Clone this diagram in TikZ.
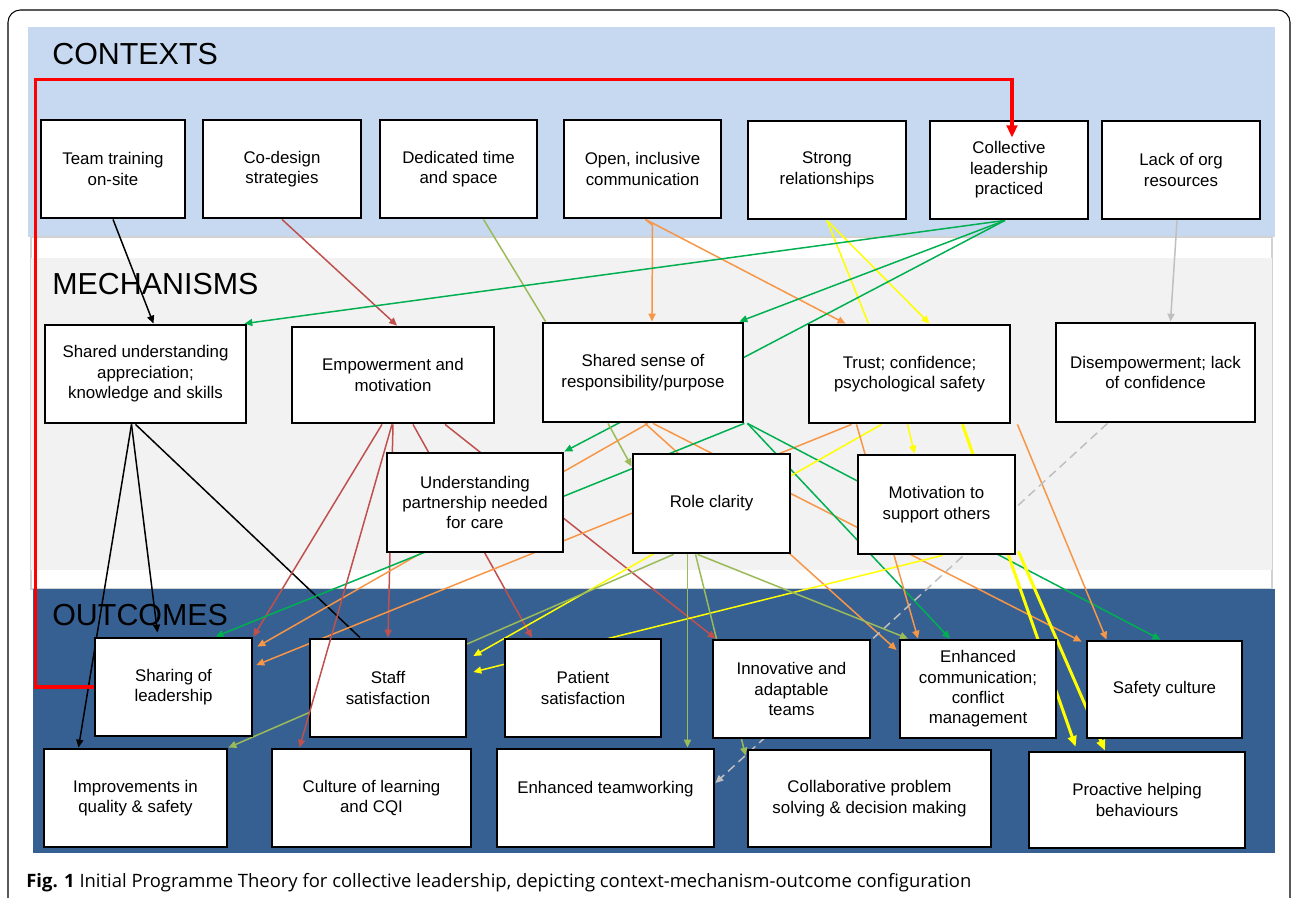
\documentclass[tikz,border=0pt]{standalone}
\usepackage{fontspec}
\setmainfont{Liberation Sans}
\newfontfamily\capfont{Open Sans}
\usetikzlibrary{arrows.meta,calc}

\definecolor{ctxblue}{HTML}{C6D9F1}
\definecolor{mechgray}{HTML}{F2F2F2}
\definecolor{outblue}{HTML}{366092}
\definecolor{brick}{HTML}{C0504D}
\definecolor{orng}{HTML}{F79646}
\definecolor{ogreen}{HTML}{9BBB59}
\definecolor{grn}{HTML}{00B050}
\definecolor{ylw}{HTML}{FFFF00}
\definecolor{gry}{HTML}{BFBFBF}

\pgfdeclarelayer{bands}
\pgfdeclarelayer{links}
\pgfsetlayers{bands,links,main}

\begin{document}
\begin{tikzpicture}[x=0.02cm, y=-0.02cm,
	cbox/.style={draw, line width=1.6pt, fill=white, align=center, inner sep=0pt, font=\fontsize{9.6}{11.6}\selectfont},
	bx/.style 2 args={minimum width=#1*0.02cm, minimum height=#2*0.02cm},
	ttl/.style={anchor=base west, inner sep=0pt, font=\fontsize{17.3}{20}\selectfont},
	lnk/.style={line width=0.85pt, -{Triangle[length=4.5pt,width=4pt]}},
	fat/.style={line width=1.7pt, -{Triangle[length=6pt,width=5pt]}}]
	\useasboundingbox (0,0) rectangle (1292,898);

	% Draw bands
	\begin{pgfonlayer}{bands}
	\draw[line width=0.6pt, rounded corners=7pt] (8,910) -- (8,10) -- (1290,10) -- (1290,910);
	\fill[ctxblue] (28,27) rectangle (1275,237);
	\draw[gry!70, line width=0.6pt, fill=white] (31,237) rectangle (1272,589);
	\fill[mechgray] (31,258) rectangle (1272,570);
	\fill[outblue] (33,589) rectangle (1275,853);
	\end{pgfonlayer}

	% Section titles
	\node (tctx) at (52,65) [ttl] {CONTEXTS};
	\node (tmech) at (52,295) [ttl] {MECHANISMS};
	\node (tout) at (52,625) [ttl] {OUTCOMES};

	% Contexts
	\node (ttr) at (113,169) [cbox, bx={144}{98}] {Team training\\on-site};
	\node (cds) at (282,169) [cbox, bx={158}{98}] {Co-design\\strategies};
	\node (ded) at (458.5,169) [cbox, bx={157}{98}] {Dedicated time\\and space};
	\node (opn) at (642.5,169) [cbox, bx={157}{98}] {Open, inclusive\\communication};
	\node (str) at (827,170) [cbox, bx={158}{98}] {Strong\\relationships};
	\node (col) at (1009,170) [cbox, bx={158}{98}] {Collective\\leadership\\practiced};
	\node (lck) at (1181,170) [cbox, bx={158}{98}] {Lack of org\\resources};

	% Mechanisms
	\node (shu) at (145.5,374) [cbox, bx={201}{98}] {Shared understanding\\appreciation;\\knowledge and skills};
	\node (emp) at (393,375) [cbox, bx={202}{96}] {Empowerment and\\motivation};
	\node (sss) at (643,372.5) [cbox, bx={200}{99}] {Shared sense of\\responsibility/purpose};
	\node (tru) at (909.5,374) [cbox, bx={201}{98}] {Trust; confidence;\\psychological safety};
	\node (dis) at (1155.5,372.5) [cbox, bx={199}{99}] {Disempowerment; lack\\of confidence};
	\node (upn) at (475,502.5) [cbox, bx={176}{99}] {Understanding\\partnership needed\\for care};
	\node (rcl) at (711.5,503.5) [cbox, bx={157}{99}] {Role clarity};
	\node (mot) at (936.5,504.5) [cbox, bx={157}{99}] {Motivation to\\support others};

	% Outcomes
	\node (shl) at (173.5,687) [cbox, bx={157}{98}] {Sharing of\\leadership};
	\node (sts) at (388,688) [cbox, bx={156}{98}] {Staff\\satisfaction};
	\node (pts) at (583,688) [cbox, bx={156}{98}] {Patient\\satisfaction};
	\node (inn) at (791.5,689) [cbox, bx={157}{98}] {Innovative and\\adaptable\\teams};
	\node (enc) at (978,689) [cbox, bx={156}{98}] {Enhanced\\communication;\\conflict\\management};
	\node (sfc) at (1164.5,689.5) [cbox, bx={155}{97}] {Safety culture};
	\node (imp) at (135.5,798) [cbox, bx={183}{98}] {Improvements in\\quality \& safety};
	\node (cul) at (371.5,798) [cbox, bx={199}{98}] {Culture of learning\\and CQI};
	\node (etw) at (605.5,798) [cbox, bx={217}{98}] {Enhanced teamworking\\\mbox{}};
	\node (cps) at (869.5,798.5) [cbox, bx={243}{97}] {Collaborative problem\\solving \& decision making};
	\node (pro) at (1137,800) [cbox, bx={216}{96}] {Proactive helping\\behaviours};

	% Caption
	\node (cap) at (26,887) [anchor=base west, inner sep=0pt, font=\capfont\fontsize{10.5}{12}\selectfont] {\textbf{Fig. 1} Initial Programme Theory for collective leadership, depicting context-mechanism-outcome configuration};

	\begin{pgfonlayer}{links}
	% Contexts to mechanisms
	\draw[lnk, black] (ttr.south) -- ($(shu.north)+(8,0)$);
	\draw[lnk, brick] (cds.south) -- ($(emp.north)+(4,0)$);
	\draw[lnk, -, ogreen] ($(ded.south)+(25,0)$) -- ($(sss.north west)+(4,0)$);
	\draw[lnk, orng] ($(opn.south)+(3,0)$) -- ($(opn.south)+(10,6)$) -- ($(sss.north)+(9,0)$);
	\draw[lnk, orng] ($(opn.south)+(3,0)$) -- ($(tru.north)+(-64,0)$);
	\draw[lnk, -, ylw] (str.south) -- ($(tru.north)+(-41,0)$);
	\draw[lnk, ylw] (str.south) -- ($(tru.north)+(20,0)$);
	\draw[lnk, grn] ($(col.south)+(-4,0)$) -- ($(shu.north east)+(-3,0)$);
	\draw[lnk, grn] ($(col.south)+(-4,0)$) -- ($(sss.north east)+(-5,0)$);
	\draw[lnk, grn] ($(col.south)+(-4,0)$) -- (upn.north east);
	\draw[lnk, gry] ($(lck.south)+(-4,0)$) -- ($(dis.north)+(15,0)$);

	% Mechanisms to outcomes
	\draw[lnk, black] ($(shu.south)+(-14,0)$) -- ($(imp.north)+(-57,0)$);
	\draw[lnk, black] ($(shu.south)+(-14,0)$) -- ($(shl.north)+(-16,-4)$);
	\draw[lnk, -, black] ($(shu.south)+(-10,0)$) -- ($(sts.north)+(-28,0)$);
	\draw[lnk, brick] ($(emp.south)+(-11,0)$) -- (shl.north east);
	\draw[lnk, brick] (emp.south) -- (sts.north);
	\draw[lnk, brick] ($(emp.south)+(20,0)$) -- ($(pts.north)+(-51,0)$);
	\draw[lnk, brick] ($(emp.south)+(52,0)$) -- ($(inn.north west)+(4,0)$);
	\draw[lnk, ogreen] ($(sss.south)+(-35,0)$) -- ($(rcl.west)+(0,-37)$);
	\draw[lnk, orng] ($(tru.south west)+(44,0)$) -- ($(shl.east)+(3,-22)$);
	\draw[lnk, orng] ($(sss.south)+(5,0)$) -- ($(shl.north east)+(4,10)$);
	\draw[lnk, orng] ($(sss.south)+(10,0)$) -- ($(sfc.north west)+(-4,2)$);
	\draw[lnk, orng] ($(sss.south)+(2,0)$) -- ($(enc.west)+(-2,-39)$);
	\draw[lnk, grn] (sss.south east) -- ($(shl.north)+(42,0)$);
	\draw[lnk, grn] ($(sss.south east)+(3,0)$) -- ($(sfc.north)+(-4,0)$);
	\draw[lnk, grn] ($(sss.south east)+(3,0)$) -- ($(enc.north)+(-28,0)$);
	\draw[lnk, ylw] ($(tru.south)+(-2,0)$) -- ($(mot.north)+(-22,0)$);
	\draw[fat, ylw] ($(tru.south)+(53,0)$) -- ($(pro.north west)+(48,-4)$);
	\draw[fat, ylw] ($(mot.south east)+(2,-4)$) -- ($(pro.north)+(-32,0)$);
	\draw[lnk, ylw] ($(tru.south)+(-28,0)$) -- ($(sts.east)+(6,-32)$);
	\draw[lnk, ylw] ($(mot.south)+(6,0)$) -- ($(sts.east)+(6,-16)$);
	\draw[lnk, orng] ($(tru.south)+(-53,0)$) -- ($(enc.north)+(-60,0)$);
	\draw[lnk, orng] ($(tru.south east)+(6,0)$) -- ($(sfc.north)+(-58,0)$);
	\draw[lnk, gry, dash pattern=on 5pt off 3pt] ($(dis.south)+(-48,0)$) -- ($(etw.east)+(0,-15)$);
	\draw[lnk, ogreen] ($(rcl.south)+(-38,0)$) -- (imp.north east);
	\draw[lnk, ogreen] ($(rcl.south)+(-24,0)$) -- ($(etw.north)+(82,0)$);
	\draw[lnk, ogreen] ($(rcl.south)+(-16,0)$) -- ($(cps.north west)+(-1,7)$);
	\draw[lnk, ogreen] ($(rcl.south)+(-14,0)$) -- ($(enc.north)+(-70,0)$);
	\end{pgfonlayer}

	% Lines drawn over the boxes
	\draw[lnk, brick] ($(emp.south)+(-1,0)$) -- ($(cul.north)+(-72,0)$);
	\draw[line width=2pt, red, -{Triangle[length=7pt,width=6pt]}] (shl.west) -- ++(-58,0) |- ($(col.north)+(3,-40)$) -- ($(col.north)+(3,18)$);

\end{tikzpicture}
\end{document}
